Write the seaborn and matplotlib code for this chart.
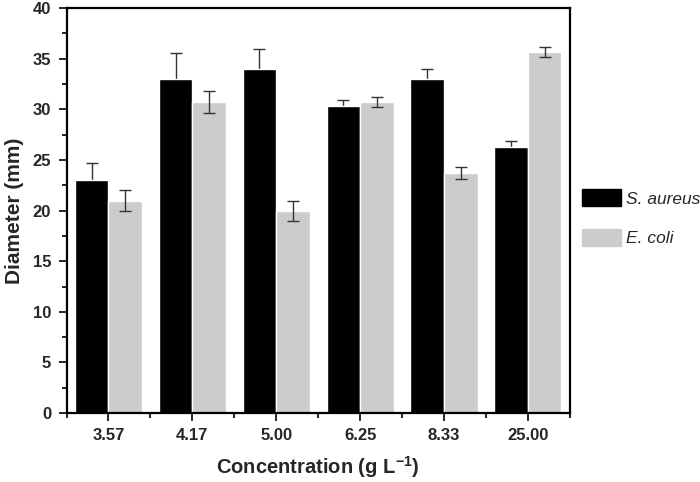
import matplotlib
matplotlib.use("Agg")
import matplotlib.pyplot as plt
import seaborn as sns
import pandas as pd
import numpy as np
from matplotlib.ticker import MultipleLocator, FixedLocator

# data
concentrations = ["3.57", "4.17", "5.00", "6.25", "8.33", "25.00"]
s_aureus = [23.0, 33.0, 34.0, 30.3, 33.0, 26.3]
s_aureus_err = [1.7, 2.6, 2.0, 0.6, 1.0, 0.6]
e_coli = [21.0, 30.7, 20.0, 30.7, 23.7, 35.7]
e_coli_err = [1.0, 1.1, 1.0, 0.5, 0.6, 0.5]

df = pd.DataFrame({
    "Concentration": concentrations * 2,
    "Diameter": s_aureus + e_coli,
    "Strain": ["S. aureus"] * 6 + ["E. coli"] * 6,
})

sns.set_style("ticks")
plt.rcParams["font.family"] = ["Liberation Sans", "DejaVu Sans"]
plt.rcParams["mathtext.fontset"] = "custom"
plt.rcParams["mathtext.rm"] = "Liberation Sans"
plt.rcParams["mathtext.bf"] = "Liberation Sans:bold"

fig = plt.figure(figsize=(7, 4.82), dpi=100)
ax = fig.add_axes([0.095, 0.143, 0.719, 0.840])

sns.barplot(data=df, x="Concentration", y="Diameter", hue="Strain",
            palette=["black", "#cccccc"], saturation=1, width=0.8,
            errorbar=None, ax=ax, legend=False)

# error bars: the black series sits behind its bars so only the upper half shows
for cont, errs, z in zip(ax.containers, [s_aureus_err, e_coli_err], [0.5, 3]):
    xs = [p.get_x() + p.get_width() / 2 for p in cont.patches]
    ys = [p.get_height() for p in cont.patches]
    ax.errorbar(xs, ys, yerr=errs, fmt="none", ecolor="#333333",
                elinewidth=1, capsize=4, capthick=1, zorder=z)

ax.set_xlim(-0.5, 5.5)
ax.set_ylim(0, 40)
ax.yaxis.set_major_locator(MultipleLocator(5))
ax.yaxis.set_minor_locator(MultipleLocator(2.5))
ax.xaxis.set_minor_locator(FixedLocator(np.arange(-0.5, 6, 1)))

for side in ["top", "right", "left", "bottom"]:
    ax.spines[side].set_visible(True)
    ax.spines[side].set_linewidth(1.6)
    ax.spines[side].set_color("black")

ax.tick_params(axis="both", which="major", direction="out", length=6,
               width=1.4, labelsize=12, pad=5)
ax.tick_params(axis="both", which="minor", direction="out", length=3.5, width=1.4)
ax.tick_params(top=False, right=False, which="both")
for lab in ax.get_xticklabels() + ax.get_yticklabels():
    lab.set_fontweight("bold")

ax.set_xlabel("Concentration (g L$^{\\mathbf{-1}}$)", fontsize=14.5, fontweight="bold", labelpad=8)
ax.set_ylabel("Diameter (mm)", fontsize=15, fontweight="bold", labelpad=6)

handles = [plt.Rectangle((0, 0), 1, 1, color="black"),
           plt.Rectangle((0, 0), 1, 1, color="#cccccc")]
fig.legend(handles, ["S. aureus", "E. coli"], loc="center left",
           bbox_to_anchor=(0.831, 0.548), frameon=False, borderpad=0,
           borderaxespad=0, prop={"style": "italic", "size": 12.5},
           handlelength=2.25, handleheight=1.1, labelspacing=1.3,
           handletextpad=0.3)

fig.savefig("out.png", dpi=100)
